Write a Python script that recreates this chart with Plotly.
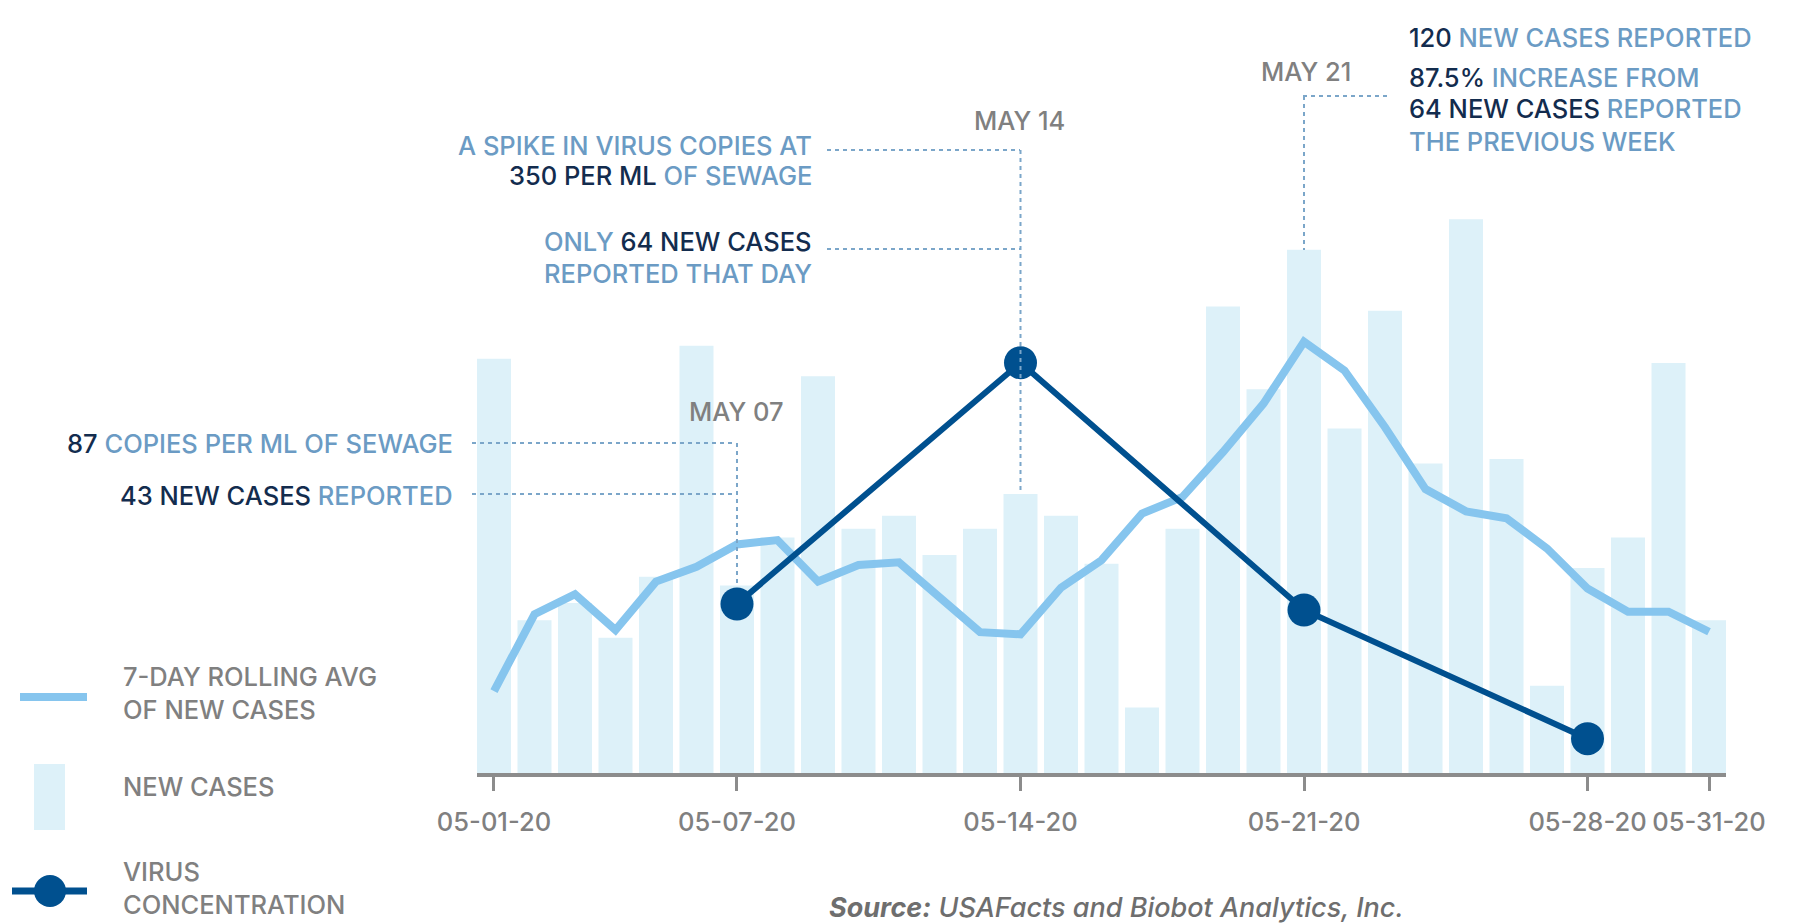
import plotly.graph_objects as go

# ---------------- data ----------------
dates = ['2020-05-01', '2020-05-02', '2020-05-03', '2020-05-04', '2020-05-05', '2020-05-06',
         '2020-05-07', '2020-05-08', '2020-05-09', '2020-05-10', '2020-05-11', '2020-05-12',
         '2020-05-13', '2020-05-14', '2020-05-15', '2020-05-16', '2020-05-17', '2020-05-18',
         '2020-05-19', '2020-05-20', '2020-05-21', '2020-05-22', '2020-05-23', '2020-05-24',
         '2020-05-25', '2020-05-26', '2020-05-27', '2020-05-28', '2020-05-29', '2020-05-30',
         '2020-05-31']
new_cases = [95, 35, 39, 31, 45, 98, 43, 54, 91, 56, 59, 50, 56, 64, 59, 48, 15, 56,
             107, 88, 120, 79, 106, 71, 127, 72, 20, 47, 54, 94, 35]
rolling_avg = [18.8, 36.4, 41.0, 32.8, 43.9, 47.3, 52.4, 53.4, 43.9, 47.7, 48.3, 40.0,
               32.3, 31.8, 42.5, 48.8, 59.5, 63.3, 73.6, 84.7, 98.9, 92.3, 79.3, 65.1,
               60.0, 58.4, 51.5, 42.3, 37.0, 37.0, 32.4]
virus_dates = ['2020-05-07', '2020-05-14', '2020-05-21', '2020-05-28']
virus_copies = [87, 350, 84, 40]
tick_dates = ['2020-05-01', '2020-05-07', '2020-05-14', '2020-05-21', '2020-05-28', '2020-05-31']
tick_labels = ['05-01-20', '05-07-20', '05-14-20', '05-21-20', '05-28-20', '05-31-20']

# ---------------- style ----------------
FONT = 'Inter'
FS = 25.5
WT = 500
NAVY = '#132c4e'
STEEL = '#6b9bc4'
GRAY = '#808080'
BAR = '#ddf1f9'
AVG = '#86c5ee'
VIR = '#00508f'
LEAD = '#7ba6c9'
AXIS = '#8c8c8c'

W, H = 1795, 923
L, R, T, B = 477, 1726, 200, 773


def px(x):
    return (x - L) / (R - L)


def py(y):
    return (B - y) / (B - T)


fig = go.Figure()
fig.add_trace(go.Bar(x=dates, y=new_cases, marker=dict(color=BAR, line=dict(width=0)),
                     name='NEW CASES', hoverinfo='skip'))
fig.add_trace(go.Scatter(x=dates, y=rolling_avg, mode='lines', name='7-DAY ROLLING AVG',
                         line=dict(color=AVG, width=8)))
fig.add_trace(go.Scatter(x=virus_dates, y=virus_copies, yaxis='y2', mode='lines+markers',
                         name='VIRUS CONCENTRATION', line=dict(color=VIR, width=6),
                         marker=dict(size=33, color=VIR)))


def span(t, c):
    return f'<span style="color:{c}">{t}</span>'


def ann(x, y, text, anchor='right', color=STEEL, size=FS, **kw):
    return dict(x=px(x), y=py(y), xref='paper', yref='paper', text=text, showarrow=False,
                xanchor=anchor, yanchor='middle',
                font=dict(size=size, color=color, family=FONT, weight=WT), **kw)


annotations = [
    # May 07
    ann(455, 443, span('87', NAVY) + ' COPIES PER ML OF SEWAGE'),
    ann(455, 495, span('43 NEW CASES', NAVY) + ' REPORTED'),
    ann(736, 411, 'MAY 07', anchor='center', color=GRAY),
    # May 14
    ann(814, 145, 'A SPIKE IN VIRUS COPIES AT'),
    ann(814, 176, span('350 PER ML', NAVY) + ' OF SEWAGE'),
    ann(814, 242, 'ONLY ' + span('64 NEW CASES', NAVY)),
    ann(814, 273, 'REPORTED THAT DAY'),
    ann(1019, 121, 'MAY 14', anchor='center', color=GRAY),
    # May 21
    ann(1306, 72, 'MAY 21', anchor='center', color=GRAY),
    ann(1407, 37, span('120', NAVY) + ' NEW CASES REPORTED', anchor='left'),
    ann(1407, 77, span('87.5%', NAVY) + ' INCREASE FROM', anchor='left'),
    ann(1407, 109, span('64 NEW CASES', NAVY) + ' REPORTED', anchor='left'),
    ann(1407, 141, 'THE PREVIOUS WEEK', anchor='left'),
    # legend
    ann(121, 693, '7-DAY ROLLING AVG<br>OF NEW CASES', anchor='left', color=GRAY, align='left'),
    ann(121, 786, 'NEW CASES', anchor='left', color=GRAY),
    ann(121, 888, 'VIRUS<br>CONCENTRATION', anchor='left', color=GRAY, align='left'),
    # source
    ann(1116, 907, '<b><i>Source:</i></b><i> USAFacts and Biobot Analytics, Inc.</i>',
        anchor='center', color='#6e6e6e', size=27),
]


def hline(x0, x1, y):
    return dict(type='line', xref='paper', yref='paper', x0=px(x0), x1=px(x1), y0=py(y), y1=py(y),
                line=dict(color=LEAD, width=2, dash='4px,4px'))


def vline(d, y0, y1):
    return dict(type='line', xref='x', yref='paper', x0=d, x1=d, y0=py(y0), y1=py(y1),
                line=dict(color=LEAD, width=2, dash='4px,4px'))


shapes = [
    hline(472, 735, 443), hline(472, 735, 494), vline('2020-05-07', 443, 587),
    hline(827, 1020, 150), hline(827, 1020, 249), vline('2020-05-14', 150, 494),
    hline(1303, 1389, 96), vline('2020-05-21', 96, 250),
    # legend glyphs
    dict(type='line', xref='paper', yref='paper', x0=px(20), x1=px(87), y0=py(697), y1=py(697),
         line=dict(color=AVG, width=8)),
    dict(type='rect', xref='paper', yref='paper', x0=px(34), x1=px(65), y0=py(830), y1=py(764),
         fillcolor=BAR, line=dict(width=0)),
    dict(type='line', xref='paper', yref='paper', x0=px(12), x1=px(87), y0=py(891), y1=py(891),
         line=dict(color=VIR, width=7)),
    dict(type='circle', xref='paper', yref='paper', x0=px(34), x1=px(66), y0=py(907), y1=py(875),
         fillcolor=VIR, line=dict(width=0)),
]

fig.update_layout(
    width=W, height=H,
    margin=dict(l=L, r=W - R, t=T, b=H - B, pad=0),
    plot_bgcolor='white', paper_bgcolor='white',
    showlegend=False, bargap=0.16,
    font=dict(family=FONT, color=GRAY, size=FS, weight=WT),
    xaxis=dict(type='date', range=['2020-04-30 13:56', '2020-05-31 10:04'],
               tickmode='array', tickvals=tick_dates, ticktext=tick_labels,
               showgrid=False, zeroline=False, showline=True, linecolor=AXIS, linewidth=4,
               ticks='outside', ticklen=14, tickwidth=2.5, tickcolor=AXIS,
               tickfont=dict(size=FS, color=GRAY, family=FONT, weight=WT), ticklabelstandoff=9),
    yaxis=dict(range=[0, 131.4], visible=False, fixedrange=True),
    yaxis2=dict(type='log', range=[1.516, 2.9517], overlaying='y', visible=False),
    annotations=annotations, shapes=shapes,
)

fig.write_html('out.html', config={'displayModeBar': False},
               post_script="document.body.style.margin='0px';")
